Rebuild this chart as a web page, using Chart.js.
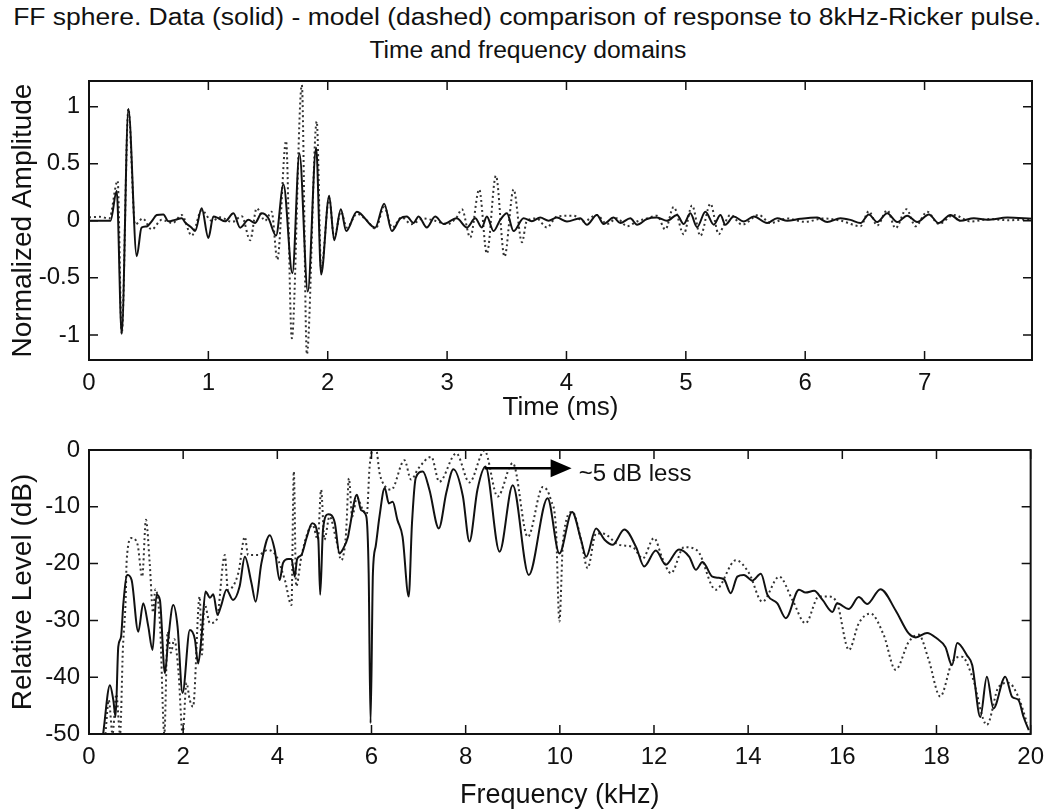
<!DOCTYPE html>
<html><head><meta charset="utf-8">
<script src="https://cdn.jsdelivr.net/npm/chart.js@4.4.0/dist/chart.umd.min.js"></script>
<style>
html,body{margin:0;padding:0;background:#fff;}
body{width:1055px;height:811px;position:relative;overflow:hidden;font-family:"Liberation Sans",Arial,sans-serif;color:#111;}
.ttl{position:absolute;left:0;width:1055px;text-align:center;white-space:nowrap;}
.ttl span{display:inline-block;transform-origin:center;}
#t1{top:4px;font-size:23px;line-height:26px;}
#t2{top:37px;font-size:23px;line-height:26px;}
canvas{position:absolute;left:0;}
#c1{top:60px;}
#c2{top:420px;}
</style></head>
<body>
<div class="ttl" id="t1"><span id="s1">FF sphere. Data (solid) - model (dashed) comparison of response to 8kHz-Ricker pulse.</span></div>
<div class="ttl" id="t2"><span id="s2">Time and frequency domains</span></div>
<canvas id="c1" width="1055" height="360"></canvas>
<canvas id="c2" width="1055" height="391"></canvas>
<script>
// ---------- tick labels ----------
const timeTicks = [0, 1, 2, 3, 4, 5, 6, 7];
const ampTicks = [-1, -0.5, 0, 0.5, 1];
const freqTicks = [0, 2, 4, 6, 8, 10, 12, 14, 16, 18, 20];
const levelTicks = [-50, -40, -30, -20, -10, 0];

// ---------- time domain: measured data (solid) ----------
const dataTime = [
 0, 0.18, 0.232, 0.274, 0.33, 0.40, 0.44, 0.483, 0.525, 0.567,
 0.623, 0.665, 0.72, 0.777, 0.81, 0.86, 0.889, 0.944, 1.0, 1.042,
 1.084, 1.14, 1.21, 1.266, 1.336, 1.39, 1.447, 1.503, 1.567, 1.629,
 1.704, 1.763, 1.833, 1.903, 1.945, 2.012, 2.054, 2.11, 2.155, 2.244,
 2.397, 2.473, 2.537, 2.607, 2.663, 2.718, 2.761, 2.83, 2.90, 2.97,
 3.08, 3.166, 3.236, 3.291, 3.333, 3.389, 3.445, 3.501, 3.557, 3.641,
 3.71, 3.78, 3.85, 3.92, 4.004, 4.116, 4.171, 4.255, 4.311, 4.395,
 4.451, 4.535, 4.591, 4.674, 4.758, 4.842, 4.926, 4.982, 5.038, 5.094,
 5.164, 5.234, 5.29, 5.331, 5.401, 5.485, 5.569, 5.681, 5.765, 5.849,
 5.96, 6.1, 6.184, 6.295, 6.379, 6.463, 6.533, 6.603, 6.687, 6.771,
 6.854, 6.938, 7.036, 7.118, 7.217, 7.301, 7.413, 7.525, 7.693, 7.9];
const dataAmp = [
 0, 0, 0.26, -0.99, 0.98, -0.31, -0.06, -0.05, -0.005, 0.05,
 0.056, -0.005, 0.008, 0.022, -0.02, -0.06, -0.09, 0.11, -0.15, 0.037,
 0.022, -0.005, 0.065, -0.06, 0.008, -0.02, 0.065, 0.022, -0.13, 0.32,
 -0.46, 0.59, -0.62, 0.64, -0.47, 0.22, -0.17, 0.10, -0.09, 0.08,
 -0.06, 0.15, -0.09, 0.02, 0.037, -0.02, 0.037, -0.059, 0.037, -0.028,
 0.022, -0.059, 0.022, -0.059, 0.037, -0.09, 0.008, 0.065, -0.09, 0.022,
 -0.003, 0.028, 0.0, 0.028, -0.006, 0.022, -0.034, 0.051, -0.028, 0.028,
 -0.02, 0.022, -0.034, 0.016, 0.028, 0.0, 0.051, -0.028, 0.065, -0.056,
 0.079, -0.034, 0.051, -0.034, 0.037, -0.006, 0.037, -0.02, 0.022, 0.0,
 0.017, 0.028, -0.011, 0.022, 0.008, -0.02, 0.056, -0.011, 0.065, -0.011,
 0.045, -0.011, 0.056, -0.02, 0.051, 0.0, 0.022, 0.008, 0.028, 0.017];

// ---------- time domain: model (dashed) ----------
const modelTime = [
 0, 0.09, 0.17, 0.24, 0.274, 0.33, 0.386, 0.45, 0.525, 0.609,
 0.70, 0.777, 0.86, 0.944, 1.028, 1.10, 1.20, 1.28, 1.35, 1.405,
 1.475, 1.53, 1.578, 1.651, 1.699, 1.783, 1.825, 1.908, 1.945, 2.012,
 2.054, 2.11, 2.16, 2.244, 2.33, 2.40, 2.473, 2.54, 2.62, 2.70,
 2.80, 2.90, 3.00, 3.08, 3.124, 3.194, 3.269, 3.333, 3.409, 3.481,
 3.557, 3.627, 3.668, 3.75, 3.836, 3.92, 4.06, 4.143, 4.255, 4.339,
 4.423, 4.507, 4.591, 4.674, 4.758, 4.828, 4.898, 4.982, 5.052, 5.122,
 5.206, 5.276, 5.317, 5.373, 5.471, 5.611, 5.709, 5.85, 6.0, 6.15,
 6.3, 6.463, 6.533, 6.603, 6.687, 6.757, 6.848, 6.924, 7.022, 7.118,
 7.245, 7.385, 7.55, 7.7, 7.9];
const modelAmp = [
 0.03, 0.035, 0.02, 0.35, -0.99, 0.98, -0.034, 0.02, -0.076, 0.008,
 -0.02, 0.05, -0.13, 0.093, 0.0, 0.03, -0.01, 0.04, -0.17, 0.11,
 0.0, 0.08, -0.34, 0.70, -1.03, 1.19, -1.17, 0.87, -0.42, 0.20,
 -0.15, 0.08, -0.06, 0.06, 0.0, -0.07, 0.12, -0.06, 0.03, -0.03,
 0.02, 0.0, -0.03, 0.03, 0.101, -0.146, 0.275, -0.287, 0.394, -0.315,
 0.275, -0.188, 0.0, 0.02, -0.059, 0.037, 0.045, -0.006, 0.051, -0.028,
 0.022, -0.048, -0.006, 0.02, 0.045, -0.076, 0.121, -0.118, 0.135, -0.132,
 0.149, -0.118, -0.04, 0.051, -0.034, 0.051, -0.02, 0.02, -0.01, 0.02,
 0.0, -0.048, 0.084, -0.042, 0.093, -0.065, 0.101, -0.048, 0.079, -0.028,
 0.051, -0.006, 0.015, 0.005, 0.017];

// ---------- frequency domain: measured data (solid) ----------
const dataFreq = [
 0.30, 0.445, 0.516, 0.565, 0.622, 0.68, 0.73, 0.813, 0.905, 1.046,
 1.152, 1.258, 1.35, 1.435, 1.506, 1.612, 1.683, 1.789, 1.88, 1.987,
 2.142, 2.248, 2.318, 2.39, 2.474, 2.57, 2.64, 2.73, 2.81, 2.92,
 3.06, 3.2, 3.31, 3.45, 3.54, 3.66, 3.84, 3.945, 4.05, 4.12,
 4.23, 4.30, 4.37, 4.42, 4.51, 4.62, 4.74, 4.87, 4.91, 4.97,
 5.08, 5.22, 5.32, 5.39, 5.5, 5.53, 5.69, 5.78, 5.89, 5.94,
 5.98, 6.03, 6.09, 6.17, 6.28, 6.37, 6.45, 6.55, 6.66, 6.79,
 6.86, 6.94, 7.09, 7.23, 7.43, 7.59, 7.74, 7.94, 8.08, 8.25,
 8.42, 8.72, 9.0, 9.34, 9.74, 9.99, 10.26, 10.45, 10.56, 10.77,
 10.95, 11.12, 11.37, 11.62, 11.79, 12.04, 12.25, 12.53, 12.75, 12.89,
 13.03, 13.24, 13.38, 13.49, 13.63, 13.77, 13.91, 14.09, 14.27, 14.41,
 14.62, 14.8, 15.08, 15.22, 15.4, 15.58, 15.79, 15.89, 16.14, 16.35,
 16.53, 16.81, 17.13, 17.41, 17.56, 17.8, 18.01, 18.19, 18.33, 18.44,
 18.65, 18.76, 18.93, 19.07, 19.21, 19.46, 19.61, 19.74, 19.85, 19.96];
const dataLevel = [
 -50, -41.4, -44, -47, -34.6, -32.9, -27, -22, -22.9, -32,
 -27, -31, -35.2, -25.5, -26.4, -39.3, -33.3, -27.3, -31, -42.8,
 -31.7, -33.3, -37.6, -32.9, -24.9, -26, -25.4, -29, -27.3, -24.6,
 -26.4, -24, -18.8, -23.4, -26.7, -20, -15, -17.6, -22.9, -19.9,
 -19.2, -19.2, -22.3, -19.2, -18.5, -15.5, -12.9, -15.7, -25.5, -14,
 -11.3, -12.8, -18.2, -17.5, -15.3, -14, -7.9, -10.6, -11.7, -21.7,
 -48.1, -21.7, -16.9, -11.7, -6.7, -9.4, -9.1, -12.3, -15.3, -25.8,
 -12.9, -4.9, -3.8, -7, -13.8, -7.5, -3.4, -8.1, -16.1, -7,
 -2.9, -17.9, -6.2, -22, -8.5, -18.2, -10.9, -15.8, -18.8, -13.8,
 -15.8, -16.7, -14, -17.1, -20.5, -17.7, -20.2, -17.5, -18.8, -21.1,
 -19.7, -22.3, -22.5, -22.8, -25.2, -22.3, -22, -23, -21.8, -25.5,
 -27, -29.6, -24.6, -25.1, -24.8, -26.4, -28.5, -27, -28, -25.9,
 -27.1, -24.5, -28.2, -32.3, -33, -32.2, -33.2, -34.7, -37.9, -34,
 -36.2, -37.9, -47, -39.9, -45.5, -39.9, -43.5, -44, -47, -49.3];

// ---------- frequency domain: model (dashed) ----------
const modelFreq = [
 0.35, 0.42, 0.5, 0.58, 0.66, 0.72, 0.78, 0.80, 0.905, 1.03,
 1.13, 1.21, 1.29, 1.36, 1.41, 1.51, 1.6, 1.67, 1.74, 1.81,
 1.9, 1.99, 2.07, 2.14, 2.21, 2.35, 2.40, 2.45, 2.57, 2.71,
 2.885, 2.95, 3.17, 3.31, 3.38, 3.59, 3.8, 3.98, 4.16, 4.3,
 4.35, 4.4, 4.51, 4.65, 4.75, 4.86, 4.93, 5.0, 5.11, 5.25,
 5.36, 5.46, 5.52, 5.59, 5.69, 5.82, 5.9, 5.96, 6.03, 6.1,
 6.17, 6.28, 6.42, 6.7, 6.84, 7.0, 7.27, 7.44, 7.8, 8.08,
 8.4, 8.68, 9.0, 9.32, 9.64, 9.81, 9.92, 9.99, 10.07, 10.27,
 10.45, 10.59, 10.77, 10.91, 11.26, 11.55, 11.76, 12.0, 12.18, 12.36,
 12.64, 12.92, 13.31, 13.74, 14.02, 14.3, 14.66, 14.94, 15.22, 15.5,
 15.7, 15.89, 16.14, 16.35, 16.6, 16.88, 17.13, 17.41, 17.62, 17.83,
 18.08, 18.33, 18.54, 18.76, 19.07, 19.32, 19.53, 19.74, 19.92];
const modelLevel = [
 -50, -44, -50, -43, -50, -35, -26, -19.4, -15.5, -16.6,
 -22.3, -12.3, -20, -28.6, -24.5, -31, -50, -32, -35.7, -33.3,
 -39, -50, -41, -44, -45.2, -25.8, -36, -27, -30.5, -29.9,
 -18.5, -24.6, -21.7, -15.3, -18.5, -18.5, -17.6, -18.7, -22.9, -27.3,
 -3.8, -24, -18.8, -14.4, -13.2, -15.8, -7, -15.8, -11.7, -15.8,
 -19.4, -14.6, -5, -11.7, -8.4, -10.6, -11.3, -2.9, 0, 0,
 -4, -6.3, -7, -1.8, -5.2, -3.2, -1.2, -5.6, -0.6, -5.7,
 -0.1, -8.2, -2.3, -15.3, -6.5, -8.8, -14.1, -30.2, -15.8, -10.9,
 -15.8, -20.8, -14.7, -14.7, -16.7, -17.1, -19.1, -15.5, -19.1, -21.7,
 -17.1, -17.7, -24.6, -19.4, -21.7, -26.7, -22.3, -26.4, -30.5, -25.8,
 -25.8, -27, -35.2, -30.5, -28.8, -32.6, -38.7, -33.8, -32.5, -36.8,
 -43.4, -37.4, -36.4, -39.9, -48.4, -41.7, -41, -43.5, -48];

// ---------- annotation ----------
const noteArrowFrom = [8.4, -3.2];
const noteArrowTo = [10.25, -3.2];
const noteTextAt = [10.4, -4.3];
const noteText = '~5 dB less';

// ---------- drawing ----------
const FONT = '"Liberation Sans", Arial, Helvetica, sans-serif';
const INK = '#111';

function fitTitle(id, target) {
  const el = document.getElementById(id);
  const w = el.getBoundingClientRect().width;
  if (w > 0) el.style.transform = 'scaleX(' + (target / w) + ')';
}
fitTitle('s1', 1028);
fitTitle('s2', 317);

const framePlugin = {
  id: 'matlabFrame',
  afterDatasetsDraw(chart) {
    const {ctx, chartArea: a, scales} = chart;
    const xs = scales.x, ys = scales.y;
    const L = 9;
    ctx.save();
    ctx.strokeStyle = INK;
    ctx.lineWidth = 1.5;
    ctx.beginPath();
    xs.ticks.forEach(t => {
      const p = xs.getPixelForValue(t.value);
      ctx.moveTo(p, a.bottom); ctx.lineTo(p, a.bottom - L);
      ctx.moveTo(p, a.top); ctx.lineTo(p, a.top + L);
    });
    ys.ticks.forEach(t => {
      const p = ys.getPixelForValue(t.value);
      ctx.moveTo(a.left, p); ctx.lineTo(a.left + L, p);
      ctx.moveTo(a.right, p); ctx.lineTo(a.right - L, p);
    });
    ctx.stroke();
    ctx.lineWidth = 2;
    ctx.strokeRect(a.left, a.top, a.right - a.left, a.bottom - a.top);
    ctx.restore();
  }
};

const arrowPlugin = {
  id: 'arrowNote',
  afterDatasetsDraw(chart) {
    const {ctx, scales: {x, y}} = chart;
    const x0 = x.getPixelForValue(noteArrowFrom[0]), y0 = y.getPixelForValue(noteArrowFrom[1]);
    const x1 = x.getPixelForValue(noteArrowTo[0]), y1 = y.getPixelForValue(noteArrowTo[1]);
    ctx.save();
    ctx.strokeStyle = '#000'; ctx.fillStyle = '#000'; ctx.lineWidth = 2.5;
    ctx.beginPath(); ctx.moveTo(x0, y0); ctx.lineTo(x1 - 16, y1); ctx.stroke();
    ctx.beginPath(); ctx.moveTo(x1, y1); ctx.lineTo(x1 - 21, y1 - 9); ctx.lineTo(x1 - 21, y1 + 9); ctx.closePath(); ctx.fill();
    ctx.fillStyle = INK;
    ctx.font = '24px ' + FONT; ctx.textBaseline = 'middle'; ctx.textAlign = 'left';
    ctx.fillText(noteText, x.getPixelForValue(noteTextAt[0]), y.getPixelForValue(noteTextAt[1]));
    ctx.restore();
  }
};

function pts(xs, ys) { return xs.map((v, i) => ({x: v, y: ys[i]})); }

function axis(opts) {
  return {
    type: 'linear', min: opts.min, max: opts.max,
    afterBuildTicks: s => { s.ticks = opts.ticks.map(v => ({value: v})); },
    afterFit: s => { if (opts.width) s.width = opts.width; if (opts.height) s.height = opts.height; },
    grid: {display: false, drawTicks: false},
    border: {display: false},
    ticks: {padding: opts.pad, color: INK, autoSkip: false, maxRotation: 0,
            font: {family: FONT, size: 24, lineHeight: 1}, callback: v => String(v)},
    title: {display: true, text: opts.title, color: INK,
            font: {family: FONT, size: opts.tsize, lineHeight: 0.9}, padding: opts.tpad}
  };
}

function makeChart(id, cfg) {
  return new Chart(document.getElementById(id), {
    type: 'line',
    data: {datasets: [
      {label: 'Data (solid)', data: cfg.data, borderColor: '#111', borderWidth: 2, pointRadius: 0,
       cubicInterpolationMode: 'monotone', fill: false},
      {label: 'Model (dashed)', data: cfg.model, borderColor: '#333', borderWidth: 2, borderDash: [2, 3], pointRadius: 0,
       cubicInterpolationMode: 'monotone', fill: false}
    ]},
    options: {
      responsive: false, animation: false, devicePixelRatio: 1,
      layout: {padding: cfg.padding},
      plugins: {legend: {display: false}, tooltip: {enabled: false}},
      scales: {x: cfg.x, y: cfg.y}
    },
    plugins: cfg.plugins
  });
}

makeChart('c1', {
  data: pts(dataTime, dataAmp), model: pts(modelTime, modelAmp),
  padding: {left: 0, right: 23, top: 10, bottom: 0},
  x: axis({min: 0, max: 7.9, ticks: timeTicks, height: 60, pad: 11, title: 'Time (ms)', tsize: 26, tpad: {top: 0, bottom: 0}}),
  y: axis({min: -1.22, max: 1.225, ticks: ampTicks, width: 89, pad: 9, title: 'Normalized Amplitude', tsize: 28, tpad: {top: 11, bottom: 0}}),
  plugins: [framePlugin]
});

makeChart('c2', {
  data: pts(dataFreq, dataLevel), model: pts(modelFreq, modelLevel),
  padding: {left: 0, right: 23, top: 30, bottom: 0},
  x: axis({min: 0, max: 20, ticks: freqTicks, height: 77, pad: 11, title: 'Frequency (kHz)', tsize: 27, tpad: {top: 0, bottom: 3}}),
  y: axis({min: -50, max: 0, ticks: levelTicks, width: 89, pad: 9, title: 'Relative Level (dB)', tsize: 28, tpad: {top: 11, bottom: 0}}),
  plugins: [framePlugin, arrowPlugin]
});
</script>
</body></html>
